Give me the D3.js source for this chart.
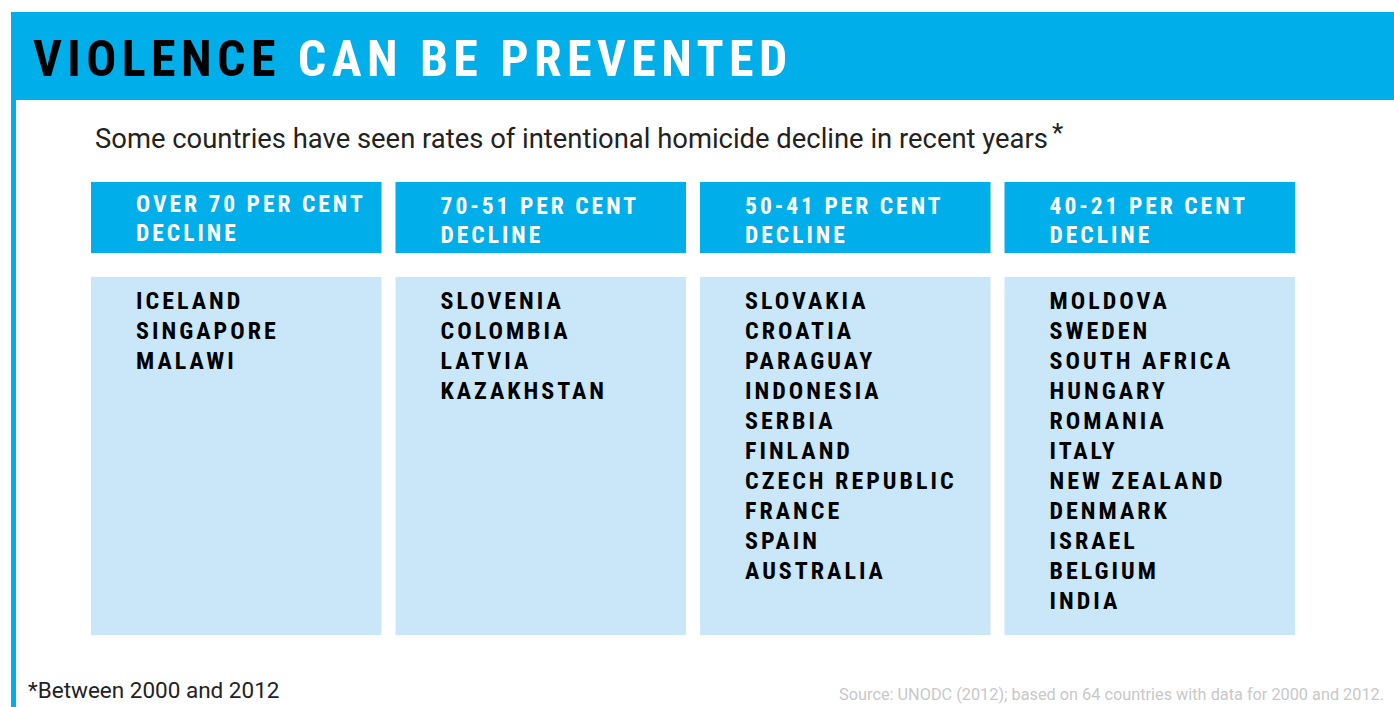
<!DOCTYPE html>
<html><head><meta charset="utf-8">
<script src="https://cdn.jsdelivr.net/npm/d3@7"></script>
<style>body{margin:0;background:#fff;} svg{display:block;}</style>
</head><body>
<svg id="c" width="1394" height="707"></svg>
<script>
const titleDark = "VIOLENCE";
const titleLight = "CAN BE PREVENTED";
const subtitle = "Some countries have seen rates of intentional homicide decline in recent years";
const categories = ["OVER 70 PER CENT|DECLINE", "70-51 PER CENT|DECLINE", "50-41 PER CENT|DECLINE", "40-21 PER CENT|DECLINE"];
const over70 = ["ICELAND", "SINGAPORE", "MALAWI"];
const from70to51 = ["SLOVENIA", "COLOMBIA", "LATVIA", "KAZAKHSTAN"];
const from50to41 = ["SLOVAKIA", "CROATIA", "PARAGUAY", "INDONESIA", "SERBIA", "FINLAND", "CZECH REPUBLIC", "FRANCE", "SPAIN", "AUSTRALIA"];
const from40to21 = ["MOLDOVA", "SWEDEN", "SOUTH AFRICA", "HUNGARY", "ROMANIA", "ITALY", "NEW ZEALAND", "DENMARK", "ISRAEL", "BELGIUM", "INDIA"];
const footnote = "*Between 2000 and 2012";
const source = "Source: UNODC (2012); based on 64 countries with data for 2000 and 2012.";

const lists = [over70, from70to51, from50to41, from40to21];
const BLUE = "#00AEEA", LIGHT = "#C9E7F8";
const COND = "'Liberation Sans Narrow','Roboto Condensed','Arial Narrow',sans-serif";
const SANS = "Roboto, 'Liberation Sans', sans-serif";

const svg = d3.select("#c");
// title band + left rule
svg.append("rect").attr("x", 11).attr("y", 12).attr("width", 1383).attr("height", 88).attr("fill", BLUE);
svg.append("rect").attr("x", 11).attr("y", 100).attr("width", 5).attr("height", 607).attr("fill", BLUE);
const t = svg.append("text").attr("x", 33).attr("y", 76)
  .style("font-family", COND).style("font-weight", "bold").style("font-size", "50px").style("letter-spacing", "5.4px");
t.append("tspan").attr("fill", "#000").text(titleDark + " ");
t.append("tspan").attr("fill", "#fff").text(titleLight);

const sub = svg.append("text").attr("x", 95).attr("y", 148)
  .style("font-family", SANS).style("font-size", "27.4px").attr("fill", "#222");
sub.append("tspan").text(subtitle);
sub.append("tspan").attr("dx", 4).attr("dy", -6).style("font-size", "26px").text("*");

const x = d3.scaleBand().domain(d3.range(categories.length)).range([91, 1295]).paddingInner(0.046).paddingOuter(0);
const row = d3.scaleLinear().domain([0, 1]).range([309, 339]);

const g = svg.selectAll("g.col").data(categories).join("g").attr("class", "col")
  .attr("transform", (d, i) => `translate(${x(i)},0)`);
g.append("rect").attr("y", 182).attr("width", x.bandwidth()).attr("height", 71).attr("fill", BLUE);
g.append("rect").attr("y", 277).attr("width", x.bandwidth()).attr("height", 358).attr("fill", LIGHT);
g.each(function(d, i) {
  const lines = d.split("|");
  const sel = d3.select(this);
  sel.selectAll("text.h").data(lines).join("text").attr("class", "h")
    .attr("x", 45).attr("y", (l, j) => 212 + j * 29 + (i === 0 ? 0 : 2))
    .attr("fill", "#fff").style("font-family", COND).style("font-weight", "bold")
    .style("font-size", "23.5px").style("letter-spacing", "3px").text(l => l);
  sel.selectAll("text.c").data(lists[i]).join("text").attr("class", "c")
    .attr("x", 45).attr("y", (l, j) => row(j))
    .attr("fill", "#000").style("font-family", COND).style("font-weight", "bold")
    .style("font-size", "24px").style("letter-spacing", "3px").text(l => l);
});

svg.append("text").attr("x", 28).attr("y", 698).text(footnote)
  .style("font-family", SANS).style("font-size", "22.5px").attr("fill", "#222");
svg.append("text").attr("x", 1384).attr("y", 700).attr("text-anchor", "end").text(source)
  .style("font-family", SANS).style("font-size", "16.3px").attr("fill", "#c8c8c8");
</script>
</body></html>
